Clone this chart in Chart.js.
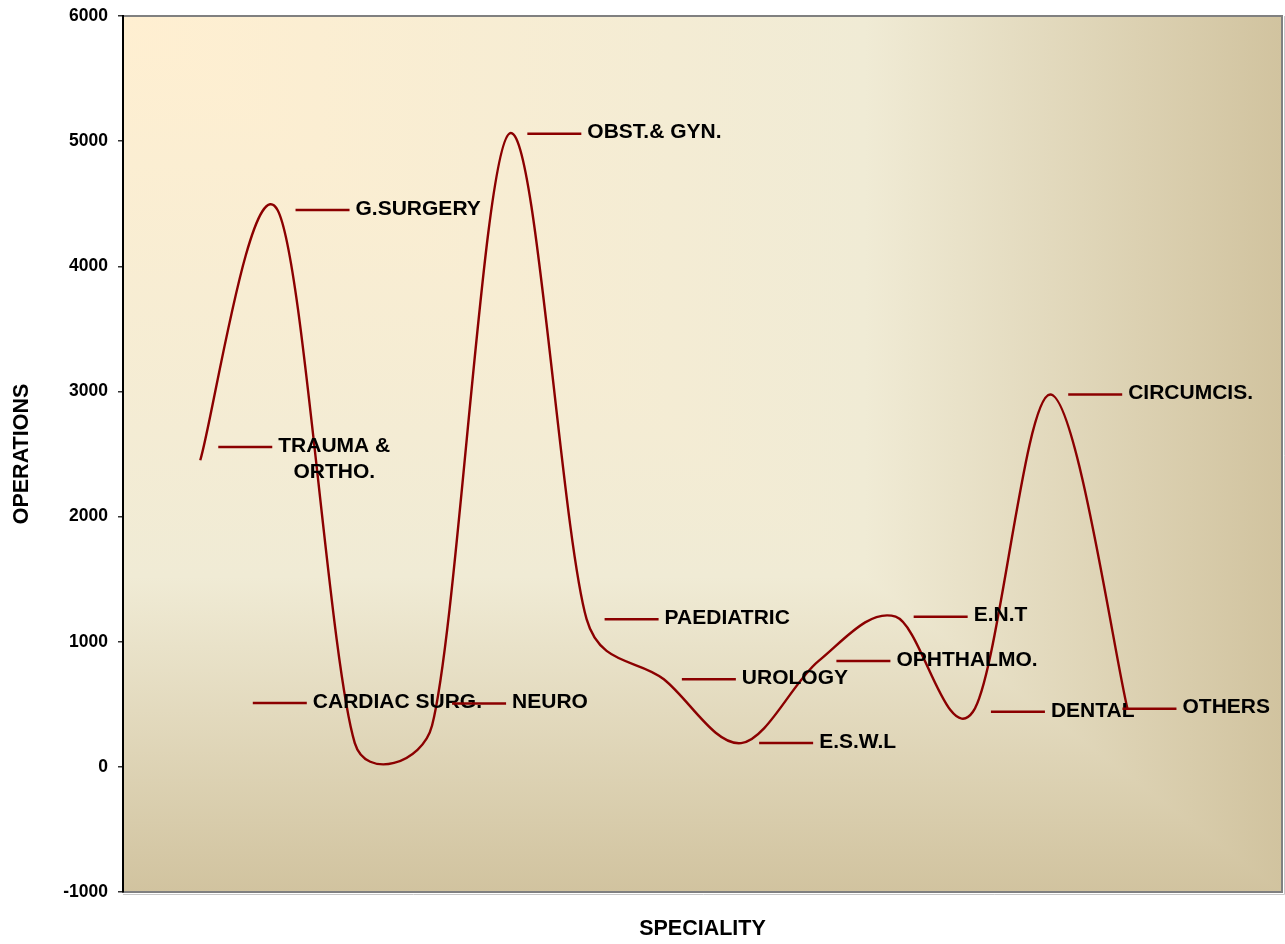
<!DOCTYPE html>
<html>
<head>
<meta charset="utf-8">
<script src="https://cdn.jsdelivr.net/npm/chart.js@4/dist/chart.umd.min.js"></script>
<style>
  body { margin: 0; background: #fff; }
  canvas { display: block; }
</style>
</head>
<body>
<canvas id="graph" width="1285" height="944"></canvas>
<script>
// categories, in the order they sit on the curve
const specialities = [
  ["TRAUMA &", "ORTHO."], "G.SURGERY", "CARDIAC SURG.", "NEURO", "OBST.& GYN.",
  "PAEDIATRIC", "UROLOGY", "E.S.W.L", "OPHTHALMO.", "E.N.T", "DENTAL", "CIRCUMCIS.", "OTHERS"
];
const operations = [2450, 4450, 190, 330, 5060, 1180, 700, 190, 845, 1200, 440, 2975, 465];
const yTicks = [-1000, 0, 1000, 2000, 3000, 4000, 5000, 6000];

const FONT = '"Liberation Sans", Arial, sans-serif';
const LINE = "#8B0000";

// labels that were dragged away from their default spot (pixels)
const labelShift = {
  2: { dx: -120, dy: -40 },
  3: { dx: 2, dy: -22 },
  12: { dx: -23, dy: 0 }
};

// Excel style parchment fill ("from corner") + grey frame
const frameBackground = {
  id: "frameBackground",
  beforeDraw(chart) {
    const { ctx, chartArea: a } = chart;
    const w = a.right - a.left, h = a.bottom - a.top;
    const stops = [[0, "#FFEFD1"], [0.64, "#F0EBD5"], [1, "#D1C39F"]];
    ctx.save();
    let g = ctx.createLinearGradient(0, a.top, 0, a.bottom);
    stops.forEach(s => g.addColorStop(s[0], s[1]));
    ctx.fillStyle = g;
    ctx.fillRect(a.left, a.top, w, h);
    // upper-right triangle: horizontal gradient
    ctx.beginPath();
    ctx.moveTo(a.left, a.top); ctx.lineTo(a.right, a.top); ctx.lineTo(a.right, a.bottom); ctx.closePath();
    ctx.clip();
    g = ctx.createLinearGradient(a.left, 0, a.right, 0);
    stops.forEach(s => g.addColorStop(s[0], s[1]));
    ctx.fillStyle = g;
    ctx.fillRect(a.left, a.top, w, h);
    ctx.restore();
    ctx.save();
    ctx.strokeStyle = "#c8c8c8";
    ctx.lineWidth = 1;
    ctx.beginPath();
    ctx.moveTo(a.left, a.bottom + 2.5); ctx.lineTo(a.right + 2.5, a.bottom + 2.5); ctx.lineTo(a.right + 2.5, a.top);
    ctx.stroke();
    ctx.strokeStyle = "#808080";
    ctx.lineWidth = 2;
    ctx.strokeRect(a.left, a.top, w, h);
    ctx.restore();
  }
};

// Excel's smoothing: neighbour difference / 6, capped at half the segment
const excelSmooth = {
  id: "excelSmooth",
  beforeDatasetDraw(chart, args) {
    const line = args.meta.dataset;
    const pts = args.meta.data;
    line.updateControlPoints(chart.chartArea, "x");
    const dist = (p, q) => Math.hypot(q.x - p.x, q.y - p.y);
    pts.forEach((p, i) => {
      const prev = pts[i - 1] || p, next = pts[i + 1] || p;
      const vx = (next.x - prev.x) / 6, vy = (next.y - prev.y) / 6;
      const len = Math.hypot(vx, vy) || 1;
      const kb = Math.min(1, dist(prev, p) / 2 / len);
      const kf = Math.min(1, dist(p, next) / 2 / len);
      p.cp1x = p.x - vx * kb; p.cp1y = p.y - vy * kb;
      p.cp2x = p.x + vx * kf; p.cp2y = p.y + vy * kf;
    });
    line._path = undefined;
  }
};

const pointLabels = {
  id: "pointLabels",
  afterDatasetsDraw(chart) {
    const { ctx } = chart;
    const pts = chart.getDatasetMeta(0).data;
    ctx.save();
    ctx.font = "bold 21px " + FONT;
    ctx.fillStyle = "#000";
    ctx.textBaseline = "middle";
    pts.forEach((p, i) => {
      const s = labelShift[i] || { dx: 0, dy: 0 };
      const lines = [].concat(specialities[i]);
      const lh = 26.5;
      const x = p.x + s.dx;
      const y = p.y + s.dy - (lines.length - 1) * lh / 2;
      ctx.strokeStyle = LINE;
      ctx.lineWidth = 2.5;
      ctx.beginPath();
      ctx.moveTo(x + 18, y);
      ctx.lineTo(x + 72, y);
      ctx.stroke();
      const widths = lines.map(t => ctx.measureText(t).width);
      const maxW = Math.max(...widths);
      lines.forEach((t, k) => {
        ctx.fillText(t, x + 78 + (maxW - widths[k]) / 2, y - 1 + k * lh);
      });
    });
    ctx.restore();
  }
};

new Chart(document.getElementById("graph"), {
  type: "line",
  data: {
    datasets: [{
      data: operations.map((v, i) => ({ x: i + 1, y: v })),
      borderColor: LINE,
      borderWidth: 2.4,
      pointRadius: 0,
      tension: 0.4,
      fill: false
    }]
  },
  options: {
    responsive: false,
    animation: false,
    layout: { padding: { top: 16, right: 3, left: 0, bottom: 0 } },
    plugins: { legend: { display: false }, tooltip: { enabled: false } },
    scales: {
      x: {
        type: "linear",
        min: 0,
        max: specialities.length + 2,
        ticks: { display: false },
        grid: { display: false },
        border: { display: false },
        title: {
          display: true, text: "SPECIALITY", color: "#000",
          font: { family: FONT, size: 21.5, weight: "bold" },
          padding: { top: 0, bottom: 2 }
        },
        afterFit(scale) { scale.height = 52; }
      },
      y: {
        min: yTicks[0],
        max: yTicks[yTicks.length - 1],
        afterBuildTicks(scale) { scale.ticks = yTicks.map(v => ({ value: v })); },
        ticks: {
          color: "#000",
          padding: 10,
          font: { family: FONT, size: 17.5, weight: "bold" },
          callback: v => String(v)
        },
        grid: { drawOnChartArea: false, tickLength: 5, color: "#333", lineWidth: 1.5 },
        border: { display: true, color: "#000", width: 2 },
        title: {
          display: true, text: "OPERATIONS", color: "#000",
          font: { family: FONT, size: 21.5, weight: "bold" },
          padding: { top: 9, bottom: 0 }
        },
        afterFit(scale) {
          scale.width = 123;
          scale.paddingTop = 0;
          scale.paddingBottom = 0;
        }
      }
    }
  },
  plugins: [frameBackground, excelSmooth, pointLabels]
});
</script>
</body>
</html>
